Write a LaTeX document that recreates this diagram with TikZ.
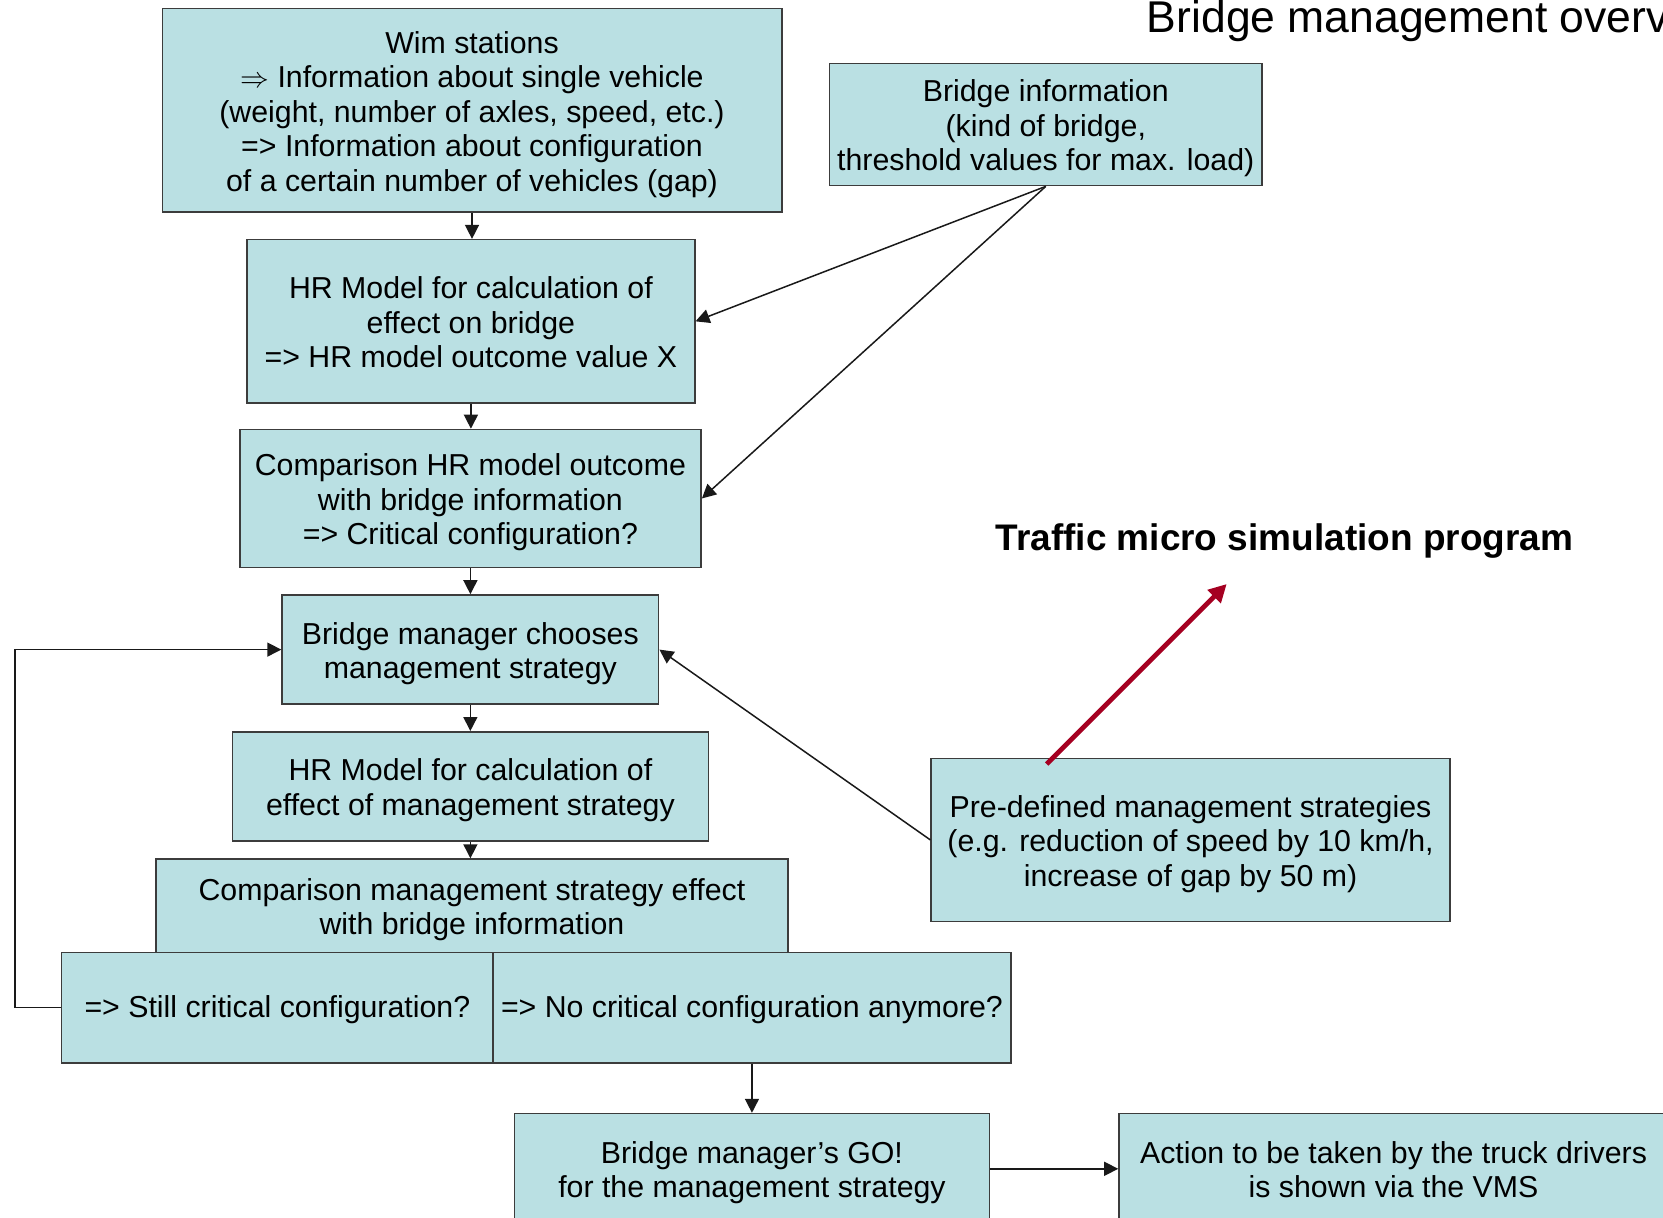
\documentclass[tikz,border=0pt]{standalone}
\usepackage{fontspec}
\setmainfont{Liberation Sans}
\usetikzlibrary{arrows.meta}
\definecolor{boxfill}{RGB}{186,224,227}
\definecolor{boxdraw}{RGB}{60,60,60}
\definecolor{redarrow}{RGB}{165,0,33}
\newcommand{\tstr}{\rule{0pt}{15pt}}
\begin{document}
\begin{tikzpicture}[x=0.5pt,y=-0.5pt,
  box/.style={draw=boxdraw, line width=0.8pt, fill=boxfill, rectangle, inner sep=0pt, align=center,
    font=\fontsize{15.15}{17.25}\selectfont,
    execute at end node={\rule[-3.2pt]{0pt}{3.2pt}}},
  oneline/.style={execute at begin node={\rule{0pt}{13pt}}},
  conn/.style={draw=black!90, line width=0.75pt, -{Triangle[length=7pt,width=7pt]}},
  redarr/.style={draw=redarrow, line width=2.4pt, -{Triangle[length=9pt,width=9pt]}}]
\useasboundingbox (0,0) rectangle (1663,1218);
\clip (0,0) rectangle (1663,1218);

\node[box, minimum width=309.7pt, minimum height=101.8pt] (wim) at (472.0,110.3) {\tstr Wim stations\\$\Rightarrow$ Information about single vehicle\\(weight, number of axles, speed, etc.)\\=> Information about configuration\\of a certain number of vehicles (gap)};
\node[box, minimum width=216.35pt, minimum height=61pt] (binfo) at (1045.75,124.6) {\tstr Bridge information\\(kind of bridge,\\threshold values for max. load)};
\node[box, minimum width=223.8pt, minimum height=81.65pt] (hr1) at (470.9,321.35) {\tstr HR Model for calculation of\\effect on bridge\\=> HR model outcome value X};
\node[box, minimum width=230.7pt, minimum height=68.95pt] (comp1) at (470.4,498.45) {\tstr Comparison HR model outcome\\with bridge information\\=> Critical configuration?};
\node[box, minimum width=188.25pt, minimum height=54.6pt] (bmgr) at (470.35,649.6) {\tstr Bridge manager chooses\\management strategy};
\node[box, minimum width=238.1pt, minimum height=54.6pt] (hr2) at (470.4,786.4) {\tstr HR Model for calculation of\\effect of management strategy};
\node[box, minimum width=316.05pt, minimum height=46.65pt] (comp2) at (471.95,905.75) {\tstr Comparison management strategy effect\\with bridge information};
\node[box, oneline, minimum width=215.85pt, minimum height=55.15pt] (still) at (277.35,1007.55) {=> Still critical configuration?};
\node[box, oneline, minimum width=258.75pt, minimum height=55.15pt] (nocrit) at (751.95,1007.55) {=> No critical configuration anymore?};
\node[box, minimum width=237.55pt, minimum height=55.2pt] (go) at (751.95,1168.8) {\tstr Bridge manager’s GO!\\for the management strategy};
\node[box, minimum width=274.5pt, minimum height=55.2pt] (action) at (1393.5,1168.8) {\tstr Action to be taken by the truck drivers\\is shown via the VMS};
\node[box, minimum width=259.3pt, minimum height=81.65pt] (predef) at (1190.5,839.95) {\tstr Pre-defined management strategies\\(e.g. reduction of speed by 10 km/h,\\increase of gap by 50 m)};

\node[anchor=base west, inner sep=0pt, font=\fontsize{22.25}{26}\selectfont] (title) at (1146.5,32.5) {Bridge management overview};
\node[anchor=base, inner sep=0pt, font=\bfseries\fontsize{18.5}{22}\selectfont] (traffic) at (1284.4,550.5) {Traffic micro simulation program};

\draw[conn] (wim.south) -- (wim.south |- hr1.north);
\draw[conn] (hr1.south) -- (hr1.south |- comp1.north);
\draw[conn] (comp1.south) -- (comp1.south |- bmgr.north);
\draw[conn] (bmgr.south) -- (bmgr.south |- hr2.north);
\draw[conn] (hr2.south) -- (hr2.south |- comp2.north);
\draw[conn] (binfo.south) -- (hr1.east);
\draw[conn] (binfo.south) -- (comp1.east);
\draw[conn] (predef.west) -- (bmgr.east);
\draw[conn] (still.west) -- ++(-45.6,0) |- (bmgr.west);
\draw[conn] (nocrit.south) -- (go.north);
\draw[conn] (go.east) -- (action.west);

\coordinate (rs) at (1046.7,764);
\coordinate (re) at (1226.7,584);
\draw[redarr] (rs) -- (re);
\end{tikzpicture}
\end{document}
